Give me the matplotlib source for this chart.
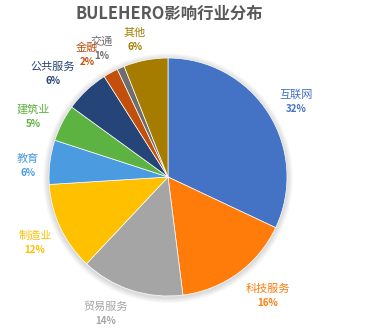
import matplotlib
matplotlib.use("Agg")
import matplotlib.pyplot as plt
from matplotlib.patches import Circle

plt.rcParams['font.family'] = ['Noto Sans CJK SC', 'DejaVu Sans']

industries = ['互联网', '科技服务', '贸易服务', '制造业', '教育', '建筑业', '公共服务', '金融', '交通', '其他']
shares = [32, 16, 14, 12, 6, 5, 6, 2, 1, 6]
colors = ['#4472C4', '#FF7C0A', '#A5A5A5', '#FFC000', '#4A9BE0', '#5DB342',
          '#254478', '#C2500C', '#6E6E6E', '#A67C00']
# label centres in figure pixels (x, y from top)
label_px = [(296, 102), (268, 296), (106, 314), (35, 243), (28, 166),
            (33, 117), (53, 74), (87, 55), (102, 49), (135, 40)]

fig = plt.figure(figsize=(3.7, 3.29), dpi=100)
W, H = 370, 329
cx, cy, R = 168, 177, 119
ax = fig.add_axes([(cx - R * 1.5) / W, 1 - (cy + R * 1.5) / H, 3 * R / W, 3 * R / H])

# soft shadow
for k in range(4):
    ax.add_patch(Circle((0.0, -0.01), 1.0 + 0.012 * (k + 1), color='black',
                        alpha=0.035, lw=0, zorder=0))

wedges, _ = ax.pie(shares, colors=colors, startangle=90, counterclock=False,
                   radius=1.0, wedgeprops=dict(linewidth=0.5, edgecolor='white'))
ax.set_xlim(-1.5, 1.5)
ax.set_ylim(-1.5, 1.5)
ax.axis('off')

for i, (name, v) in enumerate(zip(industries, shares)):
    x = (label_px[i][0] - cx) / R
    y = (cy - label_px[i][1]) / R
    ax.text(x, y + 0.063, name, ha='center', va='center', fontsize=8, color=colors[i])
    ax.text(x, y - 0.063, f'{v}%', ha='center', va='center', fontsize=7,
            fontweight='bold', color=colors[i])

fig.text(169 / W, 1 - 14 / H, 'BULEHERO影响行业分布', ha='center', va='center',
         fontsize=11.8, fontweight='bold', color='#595959')

fig.savefig('out.png', dpi=100)
